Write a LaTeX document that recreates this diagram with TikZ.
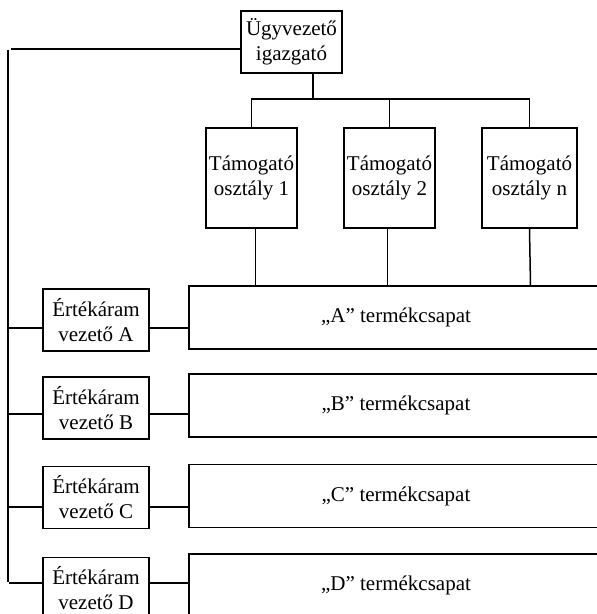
\documentclass[tikz,border=0pt]{standalone}
\usepackage{fontspec}
\setmainfont{Liberation Serif}
\usetikzlibrary{calc,positioning}
\tikzset{
	org box/.style={
		draw=black, line width=1.5pt,
		inner sep=0pt, align=center,
		font=\fontsize{21}{25}\selectfont
	},
	team box/.style={
		org box, minimum width=414pt, minimum height=63pt
	},
	stream box/.style={
		org box, minimum width=106pt, minimum height=62pt
	},
	support box/.style={
		org box, minimum height=100pt
	},
	org line/.style={
		line width=1.5pt
	}
}
\begin{document}
\begin{tikzpicture}[x=1pt, y=-1pt]
	\useasboundingbox (0,0) rectangle (597,614);
	
	\node[org box, minimum width=101pt, minimum height=62pt] (ceo) at (291.5,42) {Ügyvezető\\igazgató};
	
	\node[support box, minimum width=91pt] (s1) at (251.5,178) {Támogató\\osztály 1};
	\node[support box, minimum width=91pt] (s2) at (389.5,178) {Támogató\\osztály 2};
	\node[support box, minimum width=95pt] (s3) at (529.5,178) {Támogató\\osztály n};
	
	% ertekaram vezetok es termekcsapatok
	\foreach \i/\y/\t/\c in {A/320/317.5/328, B/408/405.5/414, C/497.5/496/507, D/588.5/585.5/583} {
		\node[stream box] (v\i) at (96,\y) {Értékáram\\vezető \i};
		\node[team box] (t\i) at (396,\t) {„\i” termékcsapat};
		\coordinate (r\i) at (0,\c);
		\draw[org line] (v\i.east |- r\i) -- (t\i.west |- r\i);
		\draw[org line] ($(v\i.west |- r\i)+(-33,0)$) -- (v\i.west |- r\i);
	}
	
	% bal oldali gerinc
	\coordinate (top) at (8,50);
	\coordinate (bottom) at (8,582);
	\draw[org line] (top) -- (bottom);
	\draw[org line] (11,49) -- (ceo.west |- 0,49);
	
	% tamogato osztalyok
	\coordinate (bus) at (313,99);
	\draw[org line] (ceo.south -| bus) -- (bus);
	\draw[org line] (s1.north) |- (bus) -| (s3.north);
	\draw[org line] (bus -| s2.north) -- (s2.north);
	\draw[org line] ($(s1.south)+(4,0)$) -- ($(tA.north -| s1.south)+(4,0)$);
	\draw[org line] ($(s2.south)+(-2,0)$) -- ($(tA.north -| s2.south)+(-2,0)$);
	\draw[org line] ($(s3.south)+(0,0)$) -- ($(tA.north -| s3.south)+(1,0)$);
\end{tikzpicture}
\end{document}
